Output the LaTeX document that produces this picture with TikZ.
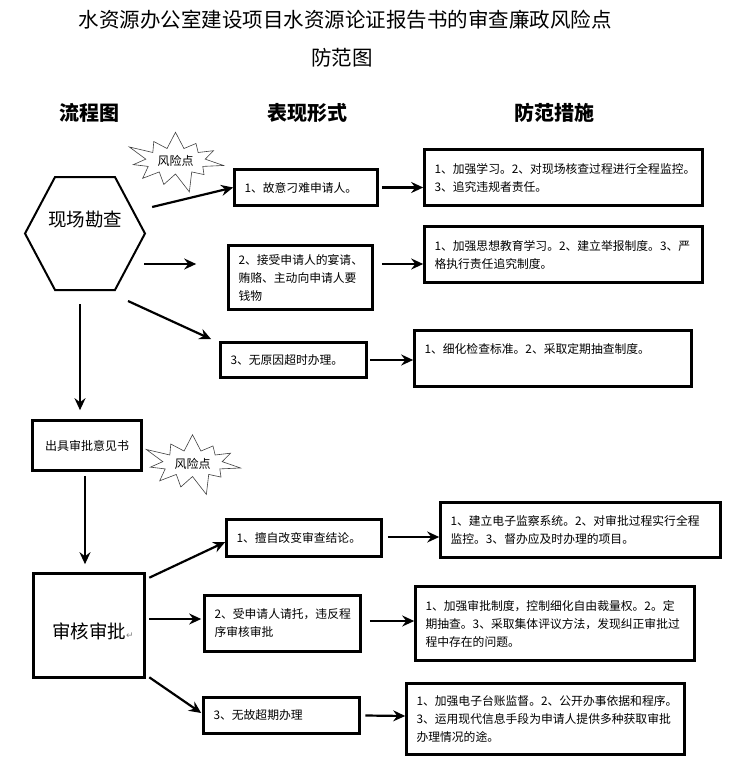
\documentclass[tikz,border=0pt]{standalone}
\usepackage{fontspec}
\setmainfont{Noto Sans CJK SC}
\newfontfamily\symfont{DejaVu Sans}
\usetikzlibrary{arrows.meta,shapes.symbols}

\begin{document}
\begin{tikzpicture}[x=1pt, y=-1pt,
	box/.style 2 args = {draw, line width=2.6pt, rectangle, minimum width=#1pt, minimum height=#2pt, text width=#1pt-20pt, inner xsep=10pt, inner ysep=0pt, align=left, font=\fontsize{11.8}{18}\selectfont},
	stage/.style = {draw, line width=2.6pt, rectangle, inner sep=0pt, align=center},
	flow/.style = {line width=2.2pt, -{Stealth[length=12pt, width=11pt, inset=4pt]}},
	risk/.style = {draw=black!75, line width=0.6pt, starburst, starburst points=11, starburst point height=22pt, minimum width=104pt, minimum height=70pt, inner sep=0pt, font=\fontsize{12}{14}\selectfont},
	head/.style = {font=\fontsize{20}{24}\selectfont\bfseries}]
	\useasboundingbox (0,0) rectangle (732,779);
	\node[font=\fontsize{20.5}{24}\selectfont] (Title) at (345,20) {水资源办公室建设项目水资源论证报告书的审查廉政风险点};
	\node[font=\fontsize{20.5}{24}\selectfont] (Title2) at (342,58) {防范图};
	\node[head] (H1) at (89,113) {流程图};
	\node[head] (H2) at (307,113) {表现形式};
	\node[head] (H3) at (554,113) {防范措施};

	\node[draw, line width=2pt, signal, signal to=west and east, signal pointer angle=124, minimum width=120pt, minimum height=113pt, inner sep=0pt, label={[font=\fontsize{18.5}{22}\selectfont, yshift=14pt]center:现场勘查}] (Site) at (85,233.5) {};
	\node[risk] (Risk1) at (175.5,161) {风险点};
	\node[box={143}{36}] (F1) at (306,187.5) {1、故意刁难申请人。};
	\node[box={144}{64}] (F2) at (300.5,277.5) {2、接受申请人的宴请、\\贿赂、主动向申请人要\\钱物};
	\node[box={146}{35}] (F3) at (293.5,360) {3、无原因超时办理。};
	\node[box={278}{56}] (P1) at (563.5,177.5) {1、加强学习。2、对现场核查过程进行全程监控。\\3、追究违规者责任。};
	\node[box={278}{56}] (P2) at (563.5,254.5) {1、加强思想教育学习。2、建立举报制度。3、严\\格执行责任追究制度。};
	\node[box={277}{56}, text depth=20pt] (P3) at (553,358.5) {1、细化检查标准。2、采取定期抽查制度。};

	\node[stage, minimum width=109pt, minimum height=50pt, font=\fontsize{12}{14}\selectfont] (Issue) at (87,445.5) {出具审批意见书};
	\node[risk] (Risk2) at (192.5,463.5) {风险点};
	\node[stage, minimum width=111pt, minimum height=104pt, font=\fontsize{18.5}{22}\selectfont, text height=28pt] (Audit) at (89,625.5) {审核审批\rlap{\symfont\color{gray}\fontsize{9}{9}\selectfont ↵}};
	\node[box={155}{37}] (G1) at (304,538) {1、擅自改变审查结论。};
	\node[box={156}{56}] (G2) at (282.5,623.5) {2、受申请人请托，违反程\\序审核审批};
	\node[box={156}{36}] (G3) at (281.5,715.5) {3、无故超期办理};
	\node[box={280}{55}] (Q1) at (580.5,530) {1、建立电子监察系统。2、对审批过程实行全程\\监控。3、督办应及时办理的项目。};
	\node[box={279}{74}] (Q2) at (555,623.5) {1、加强审批制度，控制细化自由裁量权。2。定\\期抽查。3、采取集体评议方法，发现纠正审批过\\程中存在的问题。};
	\node[box={278}{71}] (Q3) at (545.5,719) {1、加强电子台账监督。2、公开办事依据和程序。\\3、运用现代信息手段为申请人提供多种获取审批\\办理情况的途。};

	\draw[flow] ([shift={(6,-26.5)}]Site.east) -- (F1.west);
	\draw[flow] ([shift={(-2,30.5)}]Site.east) -- ([shift={(-31,-13.5)}]F2.west);
	\draw[flow] ([shift={(43,67.5)}]Site.center) -- ([shift={(-8,-2)}]F3.north west);
	\draw[flow] ([shift={(-5,13)}]Site.south) -- ([shift={(-7,-9)}]Issue.north);
	\draw[flow, shorten <=3pt] (F1.east) -- (F1.east -| P1.west);
	\draw[flow] ([shift={(8,-13.5)}]F2.east) -- ([shift={(0,9.5)}]P2.west);
	\draw[flow, shorten <=2pt] (F3.east) -- (F3.east -| P3.west);
	\draw[flow] ([shift={(-2,4)}]Issue.south) -- ([shift={(-4,-8)}]Audit.north);
	\draw[flow] ([shift={(3.5,5.5)}]Audit.north east) -- ([shift={(0,4)}]G1.west);
	\draw[flow] ([shift={(3.5,-6.5)}]Audit.east) -- ([shift={(-2,-4.5)}]G2.west);
	\draw[flow] ([shift={(3.5,-1.5)}]Audit.south east) -- ([shift={(-1,-2.5)}]G3.west);
	\draw[flow] ([shift={(5,-1)}]G1.east) -- ([shift={(0,7)}]Q1.west);
	\draw[flow] ([shift={(8,-2.5)}]G2.east) -- ([shift={(0,-2.5)}]Q2.west);
	\draw[flow] ([shift={(4.5,0)}]G3.east) -- ([shift={(0,-3)}]Q3.west);
\end{tikzpicture}
\end{document}
